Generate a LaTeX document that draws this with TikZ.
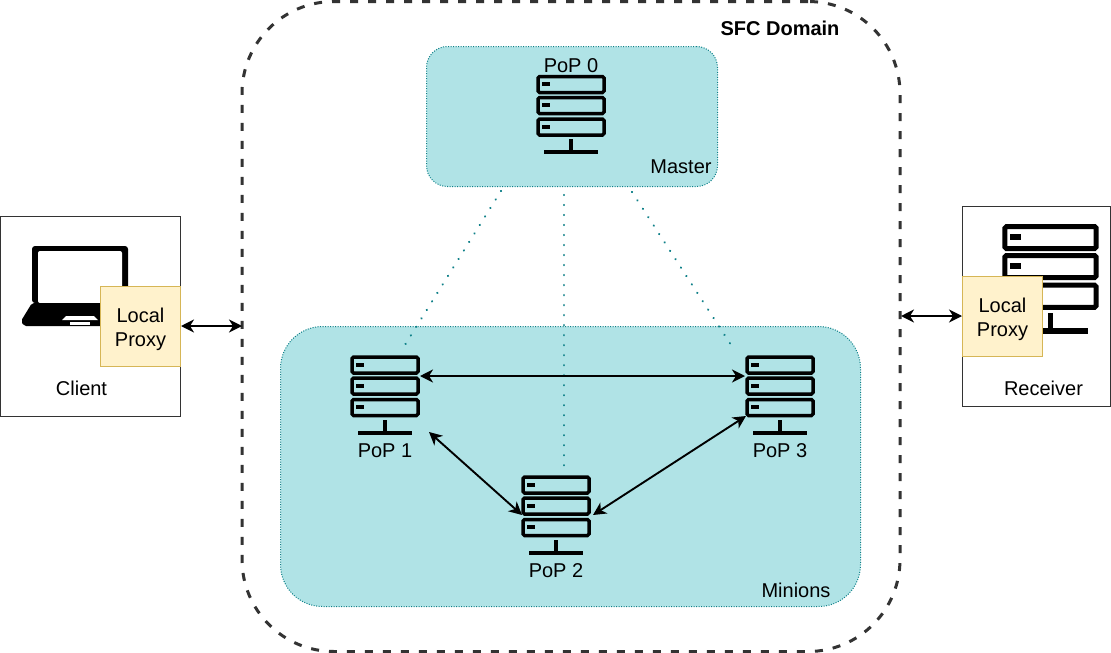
\documentclass[tikz,border=0pt]{standalone}
\usepackage{fontspec}
\setmainfont{Liberation Sans}
\usetikzlibrary{arrows.meta}
\definecolor{teal1}{HTML}{B0E3E6}
\definecolor{teal2}{HTML}{0E8088}
\definecolor{prox}{HTML}{FFF2CC}
\definecolor{proxd}{HTML}{D6B656}
\definecolor{dk}{HTML}{333333}
\tikzset{
  x=1pt,y=-1pt,
  every node/.style={font=\fontsize{20}{24}\selectfont,inner sep=0pt,outer sep=0pt,align=center},
  panel/.style={draw=dk,line width=1pt,fill=white,anchor=north west},
  proxybox/.style={draw=proxd,line width=1pt,fill=prox,anchor=center,minimum width=80pt,minimum height=80pt},
  popbox/.style={draw=teal2,fill=teal1,line width=1pt,dash pattern=on 1pt off 1.5pt,anchor=north west},
  dots/.style={draw=teal2,line width=2.4pt,line cap=round,dash pattern=on 0.01pt off 10pt},
  link/.style={draw=black,line width=1.9pt,{Stealth[length=13pt,width=13pt,inset=4pt]}-{Stealth[length=13pt,width=13pt,inset=4pt]}},
  pics/serverstack/.style={code={
    \draw[draw=black,fill=none,line width=#1,rounded corners=1.5pt] (-33,1.5) rectangle (33,17.5);
    \draw[draw=black,fill=none,line width=#1,rounded corners=1.5pt] (-33,22.5) rectangle (33,38.5);
    \draw[draw=black,fill=none,line width=#1,rounded corners=1.5pt] (-33,44) rectangle (33,60);
    \fill[black] (-29.5,7) rectangle (-21.5,11);
    \fill[black] (-29.5,28) rectangle (-21.5,32);
    \fill[black] (-29.5,49.5) rectangle (-21.5,53.5);
    \fill[black] (-1.7,64) rectangle (1.7,75);
    \fill[black] (-27,75) rectangle (27,79);
  }}
}
\begin{document}
\begin{tikzpicture}
\useasboundingbox (0,0) rectangle (1111,653);
\fill[white] (0,0) rectangle (1111,653);

% domain
\node[draw=dk,line width=3pt,dash pattern=on 8pt off 10pt,rounded corners=92pt,anchor=north west,minimum width=658pt,minimum height=650pt] (domain) at (242,1.5) {};
\node (domainlabel) at (780,28) {\bfseries SFC Domain};

% client panel and laptop
\node[panel,minimum width=180pt,minimum height=200pt] (client) at (0.5,216.5) {};
\fill[black,rounded corners=3pt] (32,246) -- (128,246) -- (128,303) -- (32,303) -- cycle;
\fill[white,rounded corners=2pt] (38,251) -- (122,251) -- (122,303) -- (38,303) -- cycle;
\fill[black,rounded corners=2pt] (32,303) -- (128,303) -- (139,320) -- (137,326) -- (24,326) -- (21,321) -- cycle;
\fill[white] (66,316) -- (94,316) -- (98,320) -- (62,320) -- cycle;
\fill[white] (70,322) rectangle (90,324.5);
\node[proxybox] (lp1) at (140.5,326.5) {};
\node (lp1t) at (140.5,329) {Local\\Proxy};
\node (clientlabel) at (81.5,388) {Client};

% receiver panel and server
\node[panel,minimum width=148pt,minimum height=200pt] (receiver) at (962.5,206.5) {};
\pic[scale=1.38] at (1050.5,224.5) {serverstack=5pt};
\node[proxybox] (lp2) at (1002.5,316.5) {};
\node (lp2t) at (1002.5,319) {Local\\Proxy};
\node (receiverlabel) at (1043.5,388) {Receiver};

% PoP regions
\node[popbox,minimum width=580pt,minimum height=280pt,rounded corners=42pt] (minions) at (280.5,326.5) {};
\node[popbox,minimum width=291pt,minimum height=140pt,rounded corners=21pt] (master) at (426.5,46.5) {};
\node (masterlabel) at (681,167) {Master};
\node (minionslabel) at (796,590.5) {Minions};

% anchors of the connectors
\coordinate (m1) at (501,191);
\coordinate (m2) at (564,195);
\coordinate (m3) at (632,192);
\coordinate (s1) at (403,348);
\coordinate (s2) at (564,470);
\coordinate (s3) at (733,348);
\coordinate (p1e) at (420,376);
\coordinate (p3w) at (745,376);
\coordinate (p1s) at (429,432);
\coordinate (p2w) at (522,515);
\coordinate (p2e) at (593,515);
\coordinate (p3s) at (746,416);
\coordinate (cr) at (181,326);
\coordinate (dl) at (242,326);
\coordinate (dr) at (901,316);
\coordinate (rl) at (962,316);

% dotted control links
\draw[dots] (m1) -- (s1);
\draw[dots] (m2) -- (s2);
\draw[dots] (m3) -- (s3);

% servers
\pic at (571,75) {serverstack=3.5pt};
\pic at (385,355.5) {serverstack=3.5pt};
\pic at (556,475.5) {serverstack=3.5pt};
\pic at (780,355.5) {serverstack=3.5pt};

\node (pop0) at (571,66) {PoP 0};
\node (pop1) at (385,450.5) {PoP 1};
\node (pop2) at (556,570.5) {PoP 2};
\node (pop3) at (780,450.5) {PoP 3};

% links
\draw[link] (p1e) -- (p3w);
\draw[link] (p1s) -- (p2w);
\draw[link] (p2e) -- (p3s);
\draw[link] (cr) -- (dl);
\draw[link] (dr) -- (rl);
\end{tikzpicture}
\end{document}
